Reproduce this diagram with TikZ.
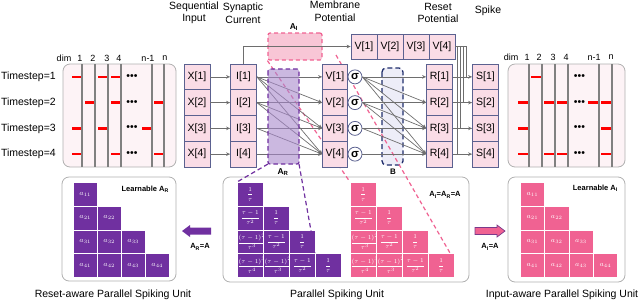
\documentclass[tikz,border=0pt]{standalone}
\usepackage{fontspec}
\setmainfont{Liberation Sans}
\usetikzlibrary{arrows.meta}
\definecolor{boxfill}{HTML}{FADCE6}
\definecolor{boxline}{HTML}{5B6190}
\definecolor{pur}{HTML}{7030A0}
\definecolor{pnk}{HTML}{F06292}
\definecolor{panelfill}{HTML}{FDF3F6}
\definecolor{panelline}{HTML}{B0B0B0}
\definecolor{arrowgray}{HTML}{6E6E6E}
\definecolor{navy}{HTML}{1F2D6B}
\definecolor{lav}{HTML}{EDEDF8}
\definecolor{arpurfill}{HTML}{A888CC}
\definecolor{aifill}{HTML}{F8C6D6}
\definecolor{dimline}{HTML}{808080}
\definecolor{pinkarrowline}{HTML}{7A3A8A}
\newcommand{\myfr}[1]{\ifcase#1 $\displaystyle\frac{1}{\tau}$\or $\displaystyle\frac{\tau-1}{\tau^2}$\or $\displaystyle\frac{(\tau-1)^2}{\tau^3}$\or $\displaystyle\frac{(\tau-1)^3}{\tau^4}$\fi}
\begin{document}
\begin{tikzpicture}[x=1pt,y=-1pt,
  vbox/.style={draw=boxline,fill=boxfill,line width=0.8pt,minimum width=26pt,minimum height=25.75pt,inner sep=0pt,font=\fontsize{10.5}{11}\selectfont},
  topbox/.style={vbox,minimum height=25pt},
  sig/.style={circle,draw=boxline,fill=white,line width=0.8pt,minimum size=14pt,inner sep=0pt,font=\fontsize{11.5}{11.5}\bfseries\selectfont},
  arr/.style={draw=arrowgray,line width=0.7pt,-{Stealth[length=4pt,width=3.6pt]}},
  plain/.style={draw=arrowgray,line width=0.7pt},
  panel/.style={draw=panelline,line width=0.8pt,rounded corners=7pt},
  dimln/.style={draw=dimline,line width=1.4pt},
  reddash/.style={draw=red,line width=2.4pt},
  lbl/.style={font=\fontsize{10.5}{12.5}\selectfont,align=center,inner sep=0pt},
  dimlbl/.style={font=\fontsize{9}{9}\selectfont,inner sep=0pt},
  small/.style={font=\fontsize{7.5}{8}\bfseries\selectfont,inner sep=0pt},
  pdash/.style={draw=pnk,line width=1.2pt,dash pattern=on 4pt off 3pt},
  udash/.style={draw=pur,line width=1.2pt,dash pattern=on 4.5pt off 3pt},
  mcell/.style={draw=white,line width=0.6pt,minimum width=#1,minimum height=23.75pt,inner sep=0pt,text=white},
]
\useasboundingbox (0,0) rectangle (640,301);

% ---------- top panels ----------
\draw[panel,fill=panelfill] (63,64) rectangle (176,167);
\draw[panel,fill=panelfill] (508,64) rectangle (625,167);
\foreach \x/\r in {82/1,108/1,121/1,95/2,121/2,164/2,82/3,108/3,152/3,82/4,121/4,164/4}
  \draw[reddash] (\x-10,{64+(\r-0.5)*25.75}) -- (\x,{64+(\r-0.5)*25.75});
\foreach \x/\r in {542/1,529/2,555/2,568/2,599/2,612/2,529/3,612/3,529/4,555/4,568/4,612/4}
  \draw[reddash] (\x-11,{64+(\r-0.5)*25.75}) -- (\x,{64+(\r-0.5)*25.75});
\foreach \x in {82,95,108,121,152,164,529,542,555,568,599,612}
  \draw[dimln] (\x,64) -- (\x,167);
\foreach \r in {1,...,4} {
  \node[font=\fontsize{10.5}{10}\selectfont,inner sep=0pt] (dl\r) at (132,{64+(\r-0.5)*25.75}) {\textbullet\textbullet\textbullet};
  \node[font=\fontsize{10.5}{10}\selectfont,inner sep=0pt] (dr\r) at (579.5,{64+(\r-0.5)*25.75}) {\textbullet\textbullet\textbullet};
  \node[lbl,anchor=east] (ts\r) at (56,{64+(\r-0.5)*25.75}) {Timestep=\r};
}
\node[dimlbl] (hl0) at (64,58) {dim};
\node[dimlbl] (hl1) at (80,58) {1};
\node[dimlbl] (hl2) at (93,58) {2};
\node[dimlbl] (hl3) at (107,58) {3};
\node[dimlbl] (hl4) at (119,58) {4};
\node[dimlbl] (hl5) at (148,58) {n-1};
\node[dimlbl] (hl6) at (165,58) {n};
\node[dimlbl] (hr0) at (511,57) {dim};
\node[dimlbl] (hr1) at (527,57) {1};
\node[dimlbl] (hr2) at (539,57) {2};
\node[dimlbl] (hr3) at (553,57) {3};
\node[dimlbl] (hr4) at (566,57) {4};
\node[dimlbl] (hr5) at (594,57) {n-1};
\node[dimlbl] (hr6) at (611,57) {n};

% ---------- column titles ----------
\node[lbl] (tX) at (194,13) {Sequential\\Input};
\node[lbl] (tI) at (243,13) {Synaptic\\Current};
\node[lbl] (tV) at (335,11) {Membrane\\Potential};
\node[lbl] (tR) at (438,13) {Reset\\Potential};
\node[lbl] (tS) at (488,11) {Spike};

% ---------- bottom panels ----------
\draw[panel,fill=white] (62,177) rectangle (176,281);
\draw[panel,fill=white] (223,177) rectangle (469,282);
\draw[panel,fill=white] (508,177) rectangle (625,282);

% ---------- B region ----------
\draw[draw=navy,fill=lav,line width=1.3pt,dash pattern=on 5pt off 3pt,rounded corners=4pt] (382,68) rectangle (403,165);
\node[small,font=\fontsize{8}{8}\bfseries\selectfont] (Blab) at (393,172) {B};

% ---------- A_I region ----------
\node[draw=pnk,fill=aifill,line width=1.2pt,dash pattern=on 4pt off 3pt,rounded corners=2pt,minimum width=54pt,minimum height=27pt,inner sep=0pt] (AI) at (295,46.5) {};
\node[small,font=\fontsize{8.5}{8.5}\bfseries\selectfont] (AIlab) at (294,27) {A\textsubscript{I}};

% ---------- dashed projection lines ----------
\coordinate (pk1) at (350,182);
\coordinate (pk2) at (450,253);
\coordinate (aiR) at (336,55);
\coordinate (pu1) at (237,182);
\coordinate (pu2) at (315,253);
\draw[pdash] (AI.south west) -- (pk1);
\draw[pdash] (aiR) -- (pk2);

% ---------- column boxes ----------
\foreach \i in {1,...,4} {
  \node[vbox] (X\i) at (197,{64+(\i-0.5)*25.75}) {X[\i]};
  \node[vbox] (I\i) at (243.5,{64+(\i-0.5)*25.75}) {I[\i]};
  \node[vbox,minimum width=25pt] (V\i) at (335,{64+(\i-0.5)*25.75}) {V[\i]};
  \node[sig] (sg\i) at (355,{64+(\i-0.5)*25.75}) {σ};
  \node[vbox] (R\i) at (439.5,{64+(\i-0.5)*25.75}) {R[\i]};
  \node[vbox] (S\i) at (485.5,{64+(\i-0.5)*25.75}) {S[\i]};
  \node[topbox] (VT\i) at ({351+(\i-0.5)*26},46.5) {V[\i]};
}

% ---------- connectors ----------
\foreach \i in {1,...,4} {
  \draw[arr] (X\i) -- (I\i);
  \draw[arr] (R\i) -- (S\i);
}
\foreach \i in {1,...,4}
  \foreach \j in {\i,...,4} {
    \draw[arr] (I\i.east) -- (V\j.west);
    \draw[arr] (sg\i.east) -- (R\j.west);
  }
\draw[arr] (I1.north) |- (VT1.west);
\foreach \i/\x in {1/466,2/463,3/460,4/457} {
  \coordinate (tp\i) at (\x,{64+(\i-0.5)*25.75});
  \draw[plain] (VT4.east) -| (tp\i);
}

% ---------- A_R region ----------
\draw[draw=pur,fill=arpurfill,fill opacity=0.6,line width=1.2pt,dash pattern=on 4.5pt off 3pt,rounded corners=2pt] (268,69) rectangle (299,164);
\coordinate (arBL) at (268,164);
\coordinate (arBR) at (299,164);
\node[small,font=\fontsize{8.5}{8.5}\bfseries\selectfont] (ARlab) at (283,172) {A\textsubscript{R}};
\draw[udash] (arBL) -- (pu1);

% ---------- matrices ----------
\foreach \i in {1,...,4}
  \foreach \j in {1,...,\i} {
    \pgfmathtruncatemacro{\mydiff}{\i-\j}
    \node[mcell=26pt,fill=pur,anchor=north west,font=\fontsize{6}{7}\selectfont] (cu\i\j) at ({237+(\j-1)*26},{182+(\i-1)*23.75}) {\myfr{\mydiff}};
    \node[mcell=26pt,fill=pnk,anchor=north west,font=\fontsize{6}{7}\selectfont] (cp\i\j) at ({350+(\j-1)*26},{182+(\i-1)*23.75}) {\myfr{\mydiff}};
    \node[mcell=24pt,fill=pur,anchor=north west,font=\fontsize{7}{7}\selectfont] (la\i\j) at ({73+(\j-1)*24},{182+(\i-1)*23.75}) {$a_{\i\j}$};
    \node[mcell=24.3pt,fill=pnk,anchor=north west,font=\fontsize{7}{7}\selectfont] (ra\i\j) at ({520+(\j-1)*24.3},{182+(\i-1)*23.75}) {$a_{\i\j}$};
  }
\draw[udash] (arBR) -- (pu2);

% ---------- bottom labels ----------
\node[small,anchor=east] (learnR) at (169,189) {Learnable A\textsubscript{R}};
\node[small,anchor=east] (learnI) at (618,188) {Learnable A\textsubscript{I}};
\node[small] (eqA) at (445,195) {A\textsubscript{I}=A\textsubscript{R}=A};
\node[small] (eqR) at (200,247) {A\textsubscript{R}=A};
\node[small] (eqI) at (490,247) {A\textsubscript{I}=A};
\node[lbl] (nR) at (113,295) {Reset-aware Parallel Spiking Unit};
\node[lbl] (nP) at (337,295) {Parallel Spiking Unit};
\node[lbl] (nI) at (562,295) {Input-aware Parallel Spiking Unit};

% ---------- block arrows ----------
\fill[pur] (182,231) -- (190,225) -- (190,227.5) -- (211,227.5) -- (211,234.5) -- (190,234.5) -- (190,237) -- cycle;
\draw[fill=pnk,draw=pinkarrowline,line width=0.7pt] (505,231) -- (497,225) -- (497,227.5) -- (475,227.5) -- (475,234.5) -- (497,234.5) -- (497,237) -- cycle;
\end{tikzpicture}
\end{document}
